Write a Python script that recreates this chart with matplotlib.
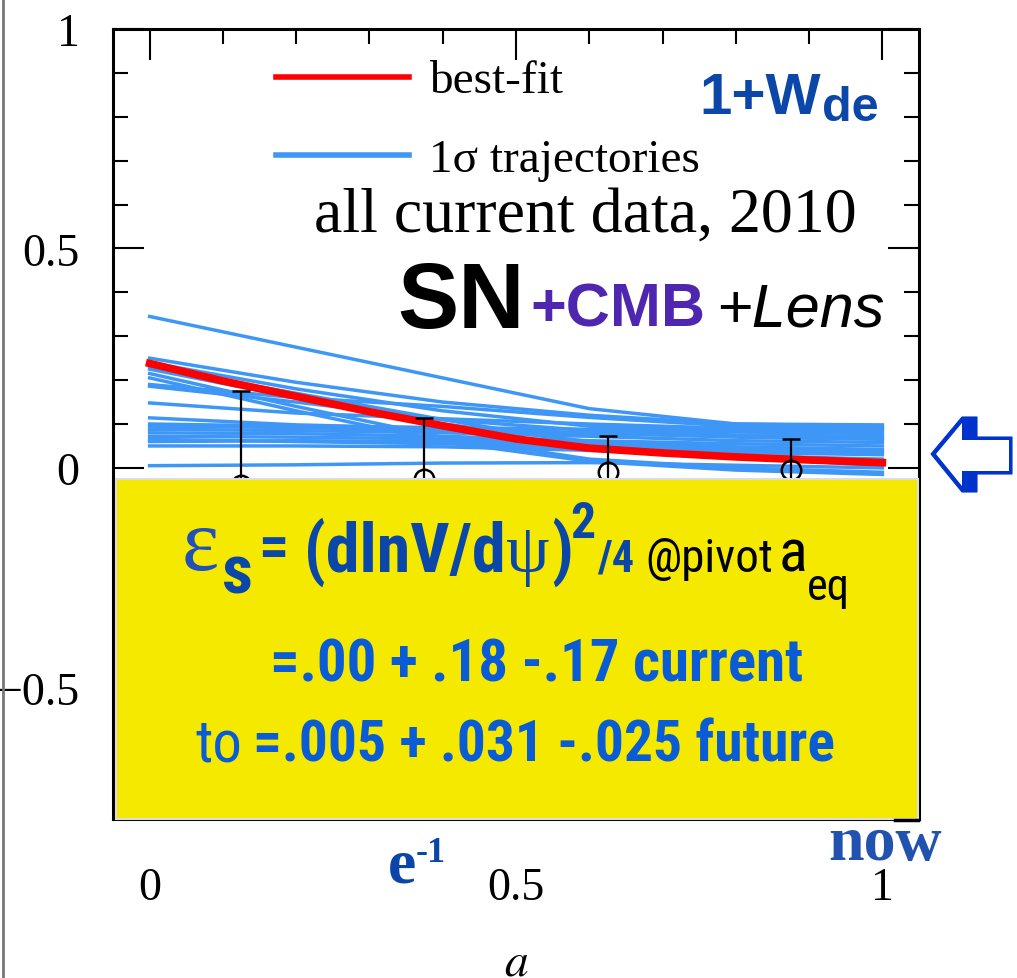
import numpy as np
import matplotlib
matplotlib.use('Agg')
from matplotlib import pyplot as plt
from matplotlib import font_manager
from matplotlib.patches import Rectangle, Polygon
from matplotlib.lines import Line2D
from matplotlib.ticker import MultipleLocator

# best-fit 1+w(a)
a_best = [0.0, 0.1, 0.2, 0.3, 0.4, 0.5, 0.6, 0.7, 0.8, 0.9, 1.0]
w_best = [0.238, 0.198, 0.163, 0.128, 0.096, 0.066, 0.045, 0.034, 0.025, 0.018, 0.012]

# 1 sigma trajectories, sampled on a_traj
a_traj = [0.0, 0.2, 0.4, 0.6, 0.8, 1.0]
traj = [
    [0.345, 0.275, 0.205, 0.135, 0.100, 0.098],
    [0.250, 0.195, 0.150, 0.120, 0.100, 0.095],
    [0.240, 0.180, 0.130, 0.095, 0.085, 0.085],
    [0.225, 0.160, 0.100, 0.060, 0.045, 0.040],
    [0.215, 0.140, 0.070, 0.020, 0.000, -0.010],
    [0.205, 0.130, 0.060, 0.015, -0.005, -0.015],
    [0.190, 0.160, 0.140, 0.115, 0.095, 0.090],
    [0.186, 0.150, 0.110, 0.085, 0.075, 0.072],
    [0.148, 0.125, 0.112, 0.100, 0.090, 0.088],
    [0.114, 0.098, 0.090, 0.080, 0.070, 0.065],
    [0.095, 0.092, 0.085, 0.078, 0.072, 0.068],
    [0.088, 0.085, 0.080, 0.072, 0.062, 0.058],
    [0.080, 0.078, 0.072, 0.062, 0.055, 0.050],
    [0.072, 0.070, 0.066, 0.058, 0.048, 0.042],
    [0.065, 0.060, 0.055, 0.045, 0.035, 0.030],
    [0.050, 0.050, 0.048, 0.040, 0.028, 0.020],
    [0.005, 0.007, 0.011, 0.012, 0.006, 0.000],
    [0.230, 0.170, 0.110, 0.055, 0.025, 0.005],
    [0.100, 0.095, 0.092, 0.088, 0.082, 0.078],
    [0.060, 0.062, 0.060, 0.052, 0.040, 0.036],
]

# binned estimates with errors
a_bins = [0.125, 0.375, 0.625, 0.875]
bin_vals = [-0.04, -0.025, -0.01, -0.004]
err_hi = [0.215, 0.139, 0.083, 0.070]
err_lo = [0.17, 0.15, 0.12, 0.10]

W, H = 1017, 979


def px(x, y):
    # pixel position -> figure fraction
    return x / W, 1 - y / H


def has_font(name):
    try:
        font_manager.findfont(name, fallback_to_default=False)
        return True
    except ValueError:
        return False


SERIF = 'Liberation Serif'
SANS = 'Liberation Sans'
# condensed face if one is installed, otherwise plain sans a bit smaller
NARROW, NSCALE = 'Liberation Sans', 0.84
for cand in ['Liberation Sans Narrow', 'Roboto Condensed', 'Open Sans Condensed']:
    if has_font(cand):
        NARROW, NSCALE = cand, 0.94
        break

RED = '#FF0000'
LBLUE = '#3E97F7'
DBLUE = '#0B47A8'
BBLUE = '#0A5CD6'

plt.rcParams['font.family'] = SERIF
plt.rcParams['mathtext.fontset'] = 'stix'

fig = plt.figure(figsize=(W / 100, H / 100), dpi=100)
ax = fig.add_axes([113 / W, 1 - 820 / H, 806 / W, 790 / H])

for row in traj:
    ax.plot(a_traj, row, color=LBLUE, lw=2.5, zorder=2)
ax.plot(a_best, w_best, color=RED, lw=5.5, zorder=3)
ax.errorbar(a_bins, bin_vals, yerr=[err_lo, err_hi], fmt='o', mfc='none',
            mec='black', mew=1.8, ms=14, ecolor='black', elinewidth=1.6,
            capsize=6.5, capthick=2.6, color='black', zorder=4)

ax.set_xlim(-0.05, 1.05)
ax.set_ylim(-0.8, 1.0)
ax.set_xticks([0, 0.5, 1])
ax.set_xticklabels(['0', '0.5', '1'])
ax.set_yticks([-0.5, 0, 0.5, 1])
ax.set_yticklabels(['\u22120.5', '0', '0.5', '1'])
ax.xaxis.set_minor_locator(MultipleLocator(0.1))
ax.yaxis.set_minor_locator(MultipleLocator(0.1))
ax.tick_params(which='both', direction='in', top=True, right=True, width=1.5,
               labelsize=33)
ax.tick_params(which='major', length=22)
ax.tick_params(which='minor', length=11)
ax.tick_params(axis='x', pad=34)
ax.tick_params(axis='y', pad=24)
for s in ax.spines.values():
    s.set_linewidth(2.2)
ax.set_xlabel('$a$', fontsize=34, labelpad=24)

# legend drawn by hand
fig.add_artist(Line2D([276 / W, 409 / W], [1 - 78 / H] * 2, color=RED, lw=4))
fig.add_artist(Line2D([276 / W, 409 / W], [1 - 156 / H] * 2, color=LBLUE, lw=4))
fig.text(*px(429, 93), 'best-fit', fontsize=34, va='baseline')
fig.text(*px(429, 172), '1\u03c3 trajectories', fontsize=34, va='baseline')
fig.text(*px(314, 232), 'all current data, 2010', fontsize=46, va='baseline')

fig.text(*px(397, 328), 'SN', family=SANS, weight='bold', fontsize=66, va='baseline')
fig.text(*px(530, 327), '+CMB', family=SANS, weight='bold', fontsize=44,
         color='#4F26B0', va='baseline')
fig.text(*px(716, 327), '+Lens', family=SANS, style='italic', fontsize=44, va='baseline')

fig.text(*px(699, 114), '1+W', family=SANS, weight='bold', fontsize=42,
         color=DBLUE, va='baseline')
fig.text(*px(822, 121), 'de', family=SANS, weight='bold', fontsize=35,
         color=DBLUE, va='baseline')

# yellow panel
fig.add_artist(Rectangle(px(116, 820), 802 / W, 340 / H, facecolor='#F5E900',
                         edgecolor='#DDDDDD', lw=1.5, zorder=5))
fig.add_artist(Line2D([895 / W, 918 / W], [1 - 821 / H] * 2, color='black', lw=2.5, zorder=5))


def box_text(x, y, s, size, family=NARROW, weight='bold', color=DBLUE):
    if family == NARROW:
        size = size * NSCALE
    fig.text(*px(x, y), s, family=family, weight=weight, fontsize=size,
             color=color, va='baseline', zorder=6)


box_text(182, 570, '\u03b5', 64, family=SERIF, weight='normal', color='#2050B8')
box_text(222, 594, 's', 52)
box_text(258, 566, '=', 46)
box_text(304, 572, '(dlnV/d', 52)
box_text(505, 572, '\u03c8', 50, family=SERIF, weight='normal')
box_text(551, 572, ')', 52)
box_text(570, 538, '2', 38)
box_text(597, 572, '/4', 34)
box_text(645, 572, '@pivot', 36, weight='normal', color='black')
box_text(779, 572, 'a', 46, weight='normal', color='black')
box_text(807, 600, 'eq', 34, weight='normal', color='black')

box_text(270, 682, '=.00 + .18 -.17 current', 45, color=BBLUE)
box_text(195, 762, 'to', 45, weight='normal', color=BBLUE)
box_text(253, 762, '=.005 + .031 -.025 future', 44, color=BBLUE)

# markers under the axis
fig.text(*px(388, 883), 'e', weight='bold', fontsize=46, color='#0A45AA', va='baseline')
fig.text(*px(416, 862), '-1', weight='bold', fontsize=26, color='#0A45AA', va='baseline')
fig.text(*px(828, 860), 'now', weight='bold', fontsize=46, color='#2152B0', va='baseline')

# arrow pointing at 1+w = 0
outer = [(931, 455), (962, 418), (977, 418), (977, 438), (1012, 438),
         (1012, 475), (977, 475), (977, 493), (962, 493)]
inner = [(936, 455), (962, 424), (962, 441), (1009, 441), (1009, 472),
         (962, 472), (962, 487)]
fig.add_artist(Polygon([px(x, y) for x, y in outer], closed=True,
                       facecolor='#0033CC', edgecolor='#0033CC', lw=0.8))
fig.add_artist(Polygon([px(x, y) for x, y in inner], closed=True,
                       facecolor='white', edgecolor='none'))

# slide border on the left
fig.add_artist(Line2D([2.5 / W, 2.5 / W], [0, 1], color='#777777', lw=2))

fig.savefig('out.png', dpi=100)
